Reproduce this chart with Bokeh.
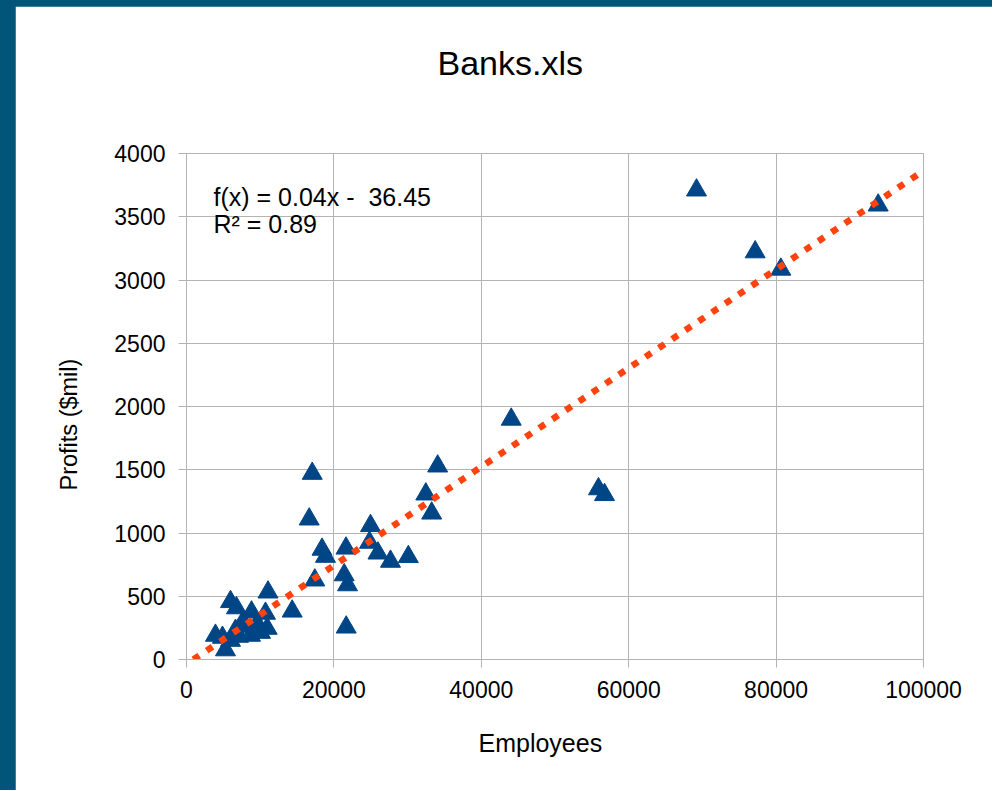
from bokeh.plotting import figure
from bokeh.models import Range1d, FixedTicker, Label, BasicTickFormatter, Title
from bokeh.layouts import column
from bokeh.embed import file_html
from bokeh.resources import INLINE

# ---- data ----
employees = [69200, 77160, 80640, 93850, 44060, 55900, 56720, 34080, 32470, 33270,
             17060, 16650, 18390, 18860, 17410, 14340, 21670, 21640, 21400, 21850,
             24970, 24830, 25980, 27680, 30100, 11060, 5970, 6780, 8820, 10720,
             3930, 4880, 5290, 7600, 6650, 8000, 9590, 10950, 8680, 7060, 10040, 5970]
profits = [3710, 3221, 3084, 3591, 1898, 1348, 1302, 1528, 1307, 1156,
           1470, 1109, 870, 814, 627, 381, 255, 879, 668, 589,
           1057, 925, 840, 775, 812, 532, 456, 407, 374, 364,
           190, 174, 75, 292, 229, 261, 285, 245, 190, 182, 213, 150]
x_ticks = [0, 20000, 40000, 60000, 80000, 100000]
y_ticks = [0, 500, 1000, 1500, 2000, 2500, 3000, 3500, 4000]
trend_slope = 0.0390
trend_intercept = -36.45
equation_lines = ["f(x) = 0.04x - \u00a036.45", "R\u00b2 = 0.89"]
title_text = "Banks.xls"
x_label = "Employees"
y_label = "Profits ($mil)"

FONT = "Liberation Sans"
GRID = "#b3b3b3"
TEAL = "#005578"

p = figure(width=977, height=784,
           x_range=Range1d(0, 100000), y_range=Range1d(0, 4000),
           output_backend="svg", toolbar_location=None,
           min_border_left=171, min_border_right=69,
           min_border_top=147, min_border_bottom=131,
           border_fill_color="white", background_fill_color="white",
           outline_line_color=GRID, margin=(6, 0, 0, 15))

# spacer between the frame and the title
p.add_layout(Title(text=" ", text_font_size="10px", standoff=54), "above")

p.title.text = title_text
p.title.align = "left"
p.title.offset = 251
p.title.text_font = FONT
p.title.text_font_size = "34px"
p.title.text_font_style = "normal"
p.title.text_color = "black"

for ax in (p.xaxis[0], p.yaxis[0]):
    ax.axis_line_color = GRID
    ax.major_tick_line_color = GRID
    ax.major_tick_in = 0
    ax.major_tick_out = 8
    ax.minor_tick_line_color = None
    ax.major_label_text_font = FONT
    ax.major_label_text_font_size = "23px"
    ax.major_label_text_color = "black"
    ax.major_label_standoff = 13
    ax.formatter = BasicTickFormatter(use_scientific=False)

p.xaxis[0].ticker = FixedTicker(ticks=x_ticks)
p.yaxis[0].ticker = FixedTicker(ticks=y_ticks)

# axis titles, placed like the reference (offset from the frame centre)
p.add_layout(Title(text=x_label, align="left", offset=292, standoff=52,
                   text_font=FONT, text_font_size="25px", text_font_style="normal",
                   text_color="black"), "below")
p.add_layout(Title(text=y_label, align="left", offset=169, standoff=59,
                   text_font=FONT, text_font_size="23.5px", text_font_style="normal",
                   text_color="black"), "left")

p.xgrid.grid_line_color = GRID
p.ygrid.grid_line_color = GRID

p.scatter(employees, profits, marker="triangle", size=20,
          fill_color="#004586", line_color="#004586")

x0 = -trend_intercept / trend_slope
x1 = x_ticks[-1]
p.line([x0, x1], [trend_slope * x0 + trend_intercept, trend_slope * x1 + trend_intercept],
       line_color="#ff420e", line_width=6.5, line_dash="7 9", line_cap="butt")

for i, txt in enumerate(equation_lines):
    p.add_layout(Label(x=3660, y=3660 - i * 219, text=txt, text_font=FONT,
                       text_font_size="25px", text_color="black",
                       text_baseline="alphabetic"))

root = column(p, styles={"background-color": TEAL})

open("out.html", "w").write(file_html(root, INLINE))
